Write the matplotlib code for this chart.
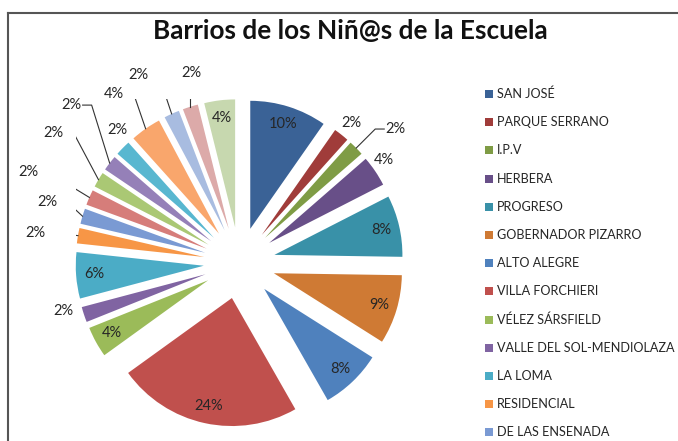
import numpy as np
import matplotlib
matplotlib.use("Agg")
import matplotlib.pyplot as plt
from matplotlib.lines import Line2D
from matplotlib.patches import Rectangle

plt.rcParams['font.family'] = ['Lato', 'DejaVu Sans']

titulo = "Barrios de los Niñ@s de la Escuela"

# only the first 13 names are visible in the (cropped) legend
barrios = ["SAN JOSÉ", "PARQUE SERRANO", "I.P.V", "HERBERA", "PROGRESO",
           "GOBERNADOR PIZARRO", "ALTO ALEGRE", "VILLA FORCHIERI", "VÉLEZ SÁRSFIELD",
           "VALLE DEL SOL-MENDIOLAZA", "LA LOMA", "RESIDENCIAL", "DE LAS ENSENADA"]

# percentages, clockwise from 12 o'clock
porcentajes = [10, 2, 2, 4, 8, 9, 8, 24, 4, 2, 6, 2, 2, 2, 2, 2, 2, 4, 2, 2, 4]

colores = ["#3A6296", "#A03C3A", "#7F9C45", "#684F88", "#3991A8", "#CF7A34",
           "#4F81BD", "#C0504D", "#9BBB59", "#8064A2", "#4BACC6", "#F79646",
           "#7A9AD3", "#D67D7A", "#AAC874", "#9580B8", "#58B7D0", "#F9A66C",
           "#A8BCE0", "#DCAAA9", "#C7D8AF"]

# which slices get their label inside
dentro = [0, 4, 5, 6, 7, 8, 10, 20]
# outside labels: offset in px (dx, dy downward) from the outer tip of the slice, leader line?
fuera = {1: (10, -12, False), 2: (39, -19, True), 3: (9, -11, False),
         9: (-21, -4, False), 11: (-43, -3, True), 12: (-35, -14, True),
         13: (-61, -25, True), 14: (-45, -47, True), 15: (-38, -58, True),
         16: (-5, -18, False), 17: (-32, -35, True), 18: (-33, -39, True),
         19: (1, -34, True)}

W, H = 678, 441
fig = plt.figure(figsize=(W / 100, H / 100), dpi=100)

# pie geometry in pixels
cx, cy, R, expl = 239.5, 263, 128, 0.28
ext = R * (1 + expl)
ax = fig.add_axes([(cx - ext) / W, (H - cy - ext) / H, 2 * ext / W, 2 * ext / H])

wedges, _ = ax.pie(porcentajes, colors=colores, startangle=90, counterclock=False,
                   explode=[expl] * len(porcentajes), radius=1,
                   wedgeprops=dict(linewidth=0))
ax.set_xlim(-1 - expl, 1 + expl)
ax.set_ylim(-1 - expl, 1 + expl)
ax.set_aspect('equal')
ax.axis('off')

txt_kw = dict(fontsize=10.5, color="#262626", ha='center', va='center')
px = 1 / R
for i, w in enumerate(wedges):
    m = np.deg2rad((w.theta1 + w.theta2) / 2)
    ox, oy = expl * np.cos(m), expl * np.sin(m)
    if i in dentro:
        ax.text(ox + 0.86 * np.cos(m), oy + 0.86 * np.sin(m), f"{porcentajes[i]}%", **txt_kw)
    elif i in fuera:
        dx, dy, leader = fuera[i]
        tx, ty = ox + np.cos(m), oy + np.sin(m)
        lx, ly = tx + dx * px, ty - dy * px
        ax.text(lx, ly, f"{porcentajes[i]}%", **txt_kw)
        if leader:
            if abs(dx) < 5:
                ax.plot([tx, tx], [ty, ly - 7 * px], color="#333333", lw=0.8)
            else:
                s = 1 if dx > 0 else -1
                ex = lx - s * 11 * px
                ax.plot([ex, ex - s * 9 * px, tx], [ly, ly, ty], color="#333333", lw=0.8)

fig.text(350 / W, 1 - 31 / H, titulo, ha='center', va='center',
         fontsize=18.8, fontweight='bold', color="#111111")

# legend (cropped at the bottom in the original)
for i, nombre in enumerate(barrios):
    y = 94 + i * 28.2
    fig.add_artist(Rectangle((485 / W, 1 - (y + 4) / H), 8 / W, 8 / H,
                             transform=fig.transFigure, facecolor=colores[i], edgecolor='none'))
    fig.text(497 / W, 1 - y / H, nombre, ha='left', va='center', fontsize=9.1, color="#262626")

# chart area border (top and left visible)
fig.add_artist(Line2D([7.5 / W, 7.5 / W], [0, 1 - 12.5 / H], transform=fig.transFigure,
                      color="#555555", lw=1.5))
fig.add_artist(Line2D([7.5 / W, 1], [1 - 12.5 / H, 1 - 12.5 / H], transform=fig.transFigure,
                      color="#555555", lw=1.5))

fig.savefig("out.png", dpi=100)
